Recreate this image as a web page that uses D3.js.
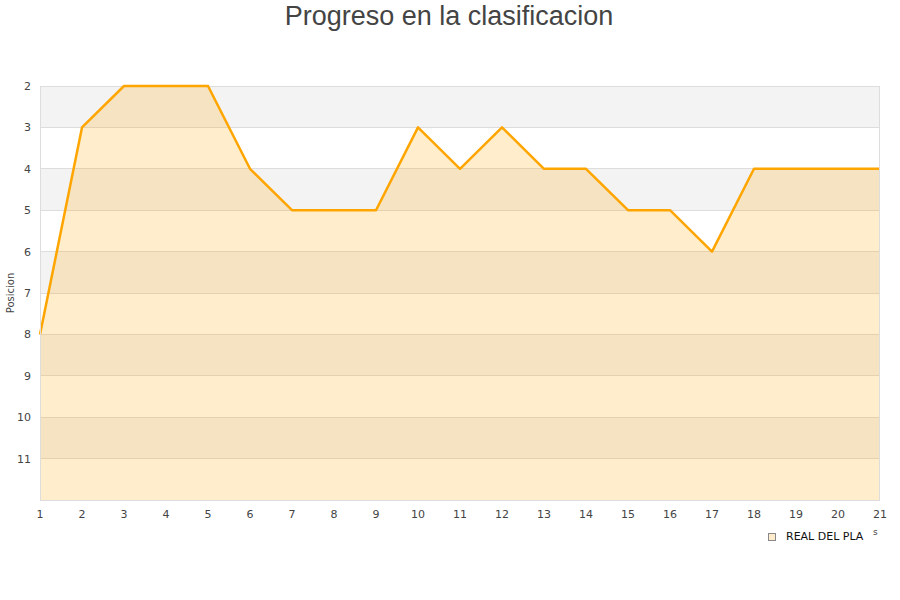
<!DOCTYPE html>
<html><head><meta charset="utf-8">
<script src="https://cdn.jsdelivr.net/npm/d3@7"></script>
<style>body{margin:0;background:#fff;}svg{display:block;font-family:"DejaVu Sans",sans-serif;}</style>
</head><body><svg id="c" width="900" height="600"></svg>
<script>
const jornadas = [1,2,3,4,5,6,7,8,9,10,11,12,13,14,15,16,17,18,19,20,21];
const posiciones = [8,3,2,2,2,4,5,5,5,3,4,3,4,4,5,5,6,4,4,4,4];
const yTicks = [2,3,4,5,6,7,8,9,10,11];
const seriesName = "REAL DEL PLA";
const title = "Progreso en la clasificacion";
const yTitle = "Posicion";

const svg = d3.select("#c");
const L=40,R=880,T=86,B=500;
const x = d3.scaleLinear().domain([1,21]).range([L,R]);
const y = d3.scaleLinear().domain([2,12]).range([T,B]);

// bands
const bands = d3.range(2,12);
svg.selectAll("rect.band").data(bands).enter().append("rect")
  .attr("x",L).attr("width",R-L).attr("y",d=>y(d)).attr("height",d=>y(d+1)-y(d))
  .attr("fill",d=>d%2===0?"#f3f3f3":"#ffffff");
// grid
svg.selectAll("line.grid").data(d3.range(2,12)).enter().append("line")
  .attr("x1",L).attr("x2",R).attr("y1",d=>y(d)).attr("y2",d=>y(d))
  .attr("stroke","#dddddd").attr("stroke-width",1).attr("shape-rendering","crispEdges");

// area
const area = d3.area().x((d,i)=>x(jornadas[i])).y0(B).y1(d=>y(d));
svg.append("path").datum(posiciones).attr("d",area).attr("fill","rgba(255,165,0,0.2)");
const line = d3.line().x((d,i)=>x(jornadas[i])).y(d=>y(d));
svg.append("path").datum(posiciones).attr("d",line).attr("fill","none")
  .attr("stroke","#ffa500").attr("stroke-width",2.5).attr("stroke-linejoin","round");

// border
svg.append("line").attr("x1",L+0.5).attr("x2",L+0.5).attr("y1",T).attr("y2",B).attr("stroke","#dddddd");
svg.append("line").attr("x1",L).attr("x2",R).attr("y1",B+0.5).attr("y2",B+0.5).attr("stroke","#dddddd");
svg.append("line").attr("x1",R-0.5).attr("x2",R-0.5).attr("y1",T).attr("y2",B).attr("stroke","#dddddd");

// axes text
svg.selectAll("text.yt").data(yTicks).enter().append("text")
  .attr("x",31).attr("y",d=>y(d)+4).attr("text-anchor","end")
  .attr("font-size",11).attr("fill","#444").text(d=>d);
svg.selectAll("text.xt").data(jornadas).enter().append("text")
  .attr("x",d=>x(d)).attr("y",518).attr("text-anchor","middle")
  .attr("font-size",11).attr("fill","#444").text(d=>d);

svg.append("text").attr("x",449).attr("y",25).attr("text-anchor","middle")
  .attr("font-family","'Liberation Sans',Arial,sans-serif")
  .attr("font-size",27).attr("fill","#444").text(title);
svg.append("text").attr("transform","translate(14,293) rotate(-90)").attr("text-anchor","middle")
  .attr("font-size",10).attr("fill","#444").text(yTitle);

// legend
svg.append("rect").attr("x",768.5).attr("y",533.5).attr("width",7).attr("height",7)
  .attr("fill","#ffeccc").attr("stroke","#888");
svg.append("text").attr("x",786).attr("y",540).attr("font-size",11).attr("fill","#111").text(seriesName);
svg.append("text").attr("x",873).attr("y",535).attr("font-size",9).attr("fill","#444").text("s");
</script></body></html>
